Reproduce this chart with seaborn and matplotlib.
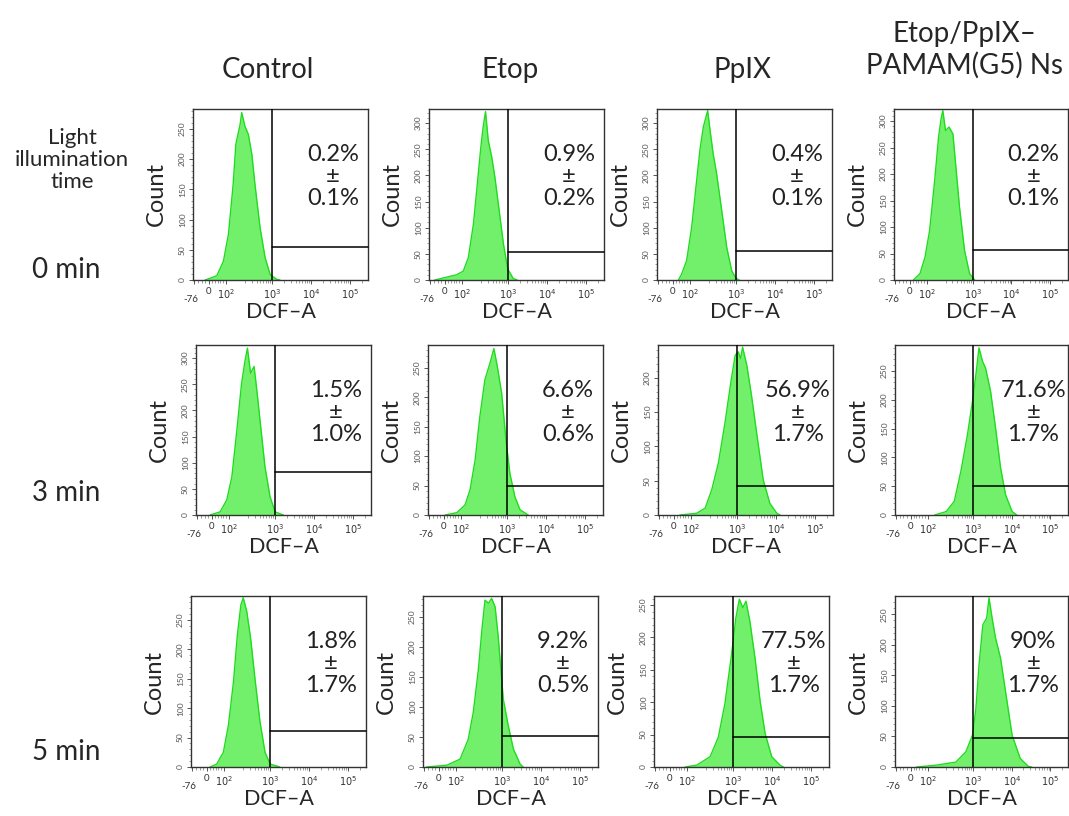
import numpy as np
import matplotlib
matplotlib.use("Agg")
import matplotlib.pyplot as plt
import matplotlib.transforms as mtransforms
import seaborn as sns

# ---------------- data ----------------
col_titles = ["Control", "Etop", "PpIX", "Etop/PpIX–\nPAMAM(G5) Ns"]
row_titles = ["0 min", "3 min", "5 min"]
side_title = ["Light", "illumination", "time"]

# x positions are in display "decade" units of the biexponential DCF-A axis
xtick_pos = [1.0, 1.38, 1.82, 3.0, 4.0, 5.0]
xtick_labels = ["-76", "0", "$10^2$", "$10^3$", "$10^4$", "$10^5$"]
gate_pos = 3.0  # 10^3

# 0 min
pos_0_control = [1.28, 1.58, 1.75, 1.88, 2.00, 2.07, 2.18, 2.22, 2.30, 2.39, 2.48, 2.56, 2.69, 2.82, 2.95, 3.12, 3.20]
cnt_0_control = [0, 7, 31, 76, 158, 225, 258, 277, 255, 241, 208, 158, 87, 37, 9, 1, 0]
pos_0_etop = [1.12, 1.68, 1.85, 1.98, 2.11, 2.21, 2.30, 2.36, 2.42, 2.49, 2.58, 2.66, 2.77, 2.88, 2.99, 3.13, 3.23]
cnt_0_etop = [0, 10, 17, 43, 107, 184, 254, 293, 322, 267, 235, 197, 133, 69, 21, 3, 0]
pos_0_ppix = [1.52, 1.60, 1.73, 1.86, 1.97, 2.07, 2.16, 2.27, 2.33, 2.41, 2.50, 2.63, 2.76, 2.89, 3.00, 3.08]
cnt_0_ppix = [0, 11, 37, 101, 178, 248, 293, 324, 287, 242, 203, 133, 62, 17, 3, 0]
pos_0_combo = [1.47, 1.64, 1.77, 1.89, 2.02, 2.12, 2.19, 2.23, 2.30, 2.39, 2.49, 2.56, 2.66, 2.79, 2.92, 3.05]
cnt_0_combo = [0, 12, 43, 94, 188, 270, 307, 320, 282, 289, 276, 219, 138, 56, 12, 0]

# 3 min
pos_3_control = [1.33, 1.59, 1.76, 1.89, 2.01, 2.14, 2.23, 2.29, 2.37, 2.46, 2.53, 2.63, 2.74, 2.87, 3.00, 3.21]
cnt_3_control = [0, 6, 29, 73, 156, 252, 296, 319, 271, 284, 239, 169, 92, 35, 6, 0]
pos_3_etop = [1.41, 1.71, 1.92, 2.05, 2.18, 2.30, 2.43, 2.56, 2.66, 2.75, 2.86, 2.97, 3.07, 3.20, 3.33, 3.54]
cnt_3_etop = [0, 4, 17, 43, 94, 167, 230, 258, 283, 252, 207, 128, 71, 31, 9, 0]
pos_3_ppix = [1.53, 1.96, 2.18, 2.35, 2.52, 2.69, 2.84, 2.95, 3.03, 3.09, 3.14, 3.25, 3.37, 3.50, 3.67, 3.84, 4.02, 4.10]
cnt_3_ppix = [0, 2.5, 10, 37, 76, 135, 194, 233, 238, 228, 245, 218, 174, 120, 51, 17, 2.5, 0]
pos_3_combo = [2.00, 2.30, 2.51, 2.68, 2.85, 2.98, 3.07, 3.15, 3.24, 3.32, 3.45, 3.58, 3.71, 3.84, 4.01, 4.13]
cnt_3_combo = [0, 6, 24, 76, 139, 197, 244, 290, 267, 255, 215, 151, 82, 35, 6, 0]

# 5 min
pos_5_control = [1.46, 1.63, 1.80, 1.93, 2.06, 2.16, 2.25, 2.31, 2.40, 2.50, 2.61, 2.74, 2.87, 3.00, 3.25]
cnt_5_control = [0, 5, 25, 71, 145, 225, 276, 288, 265, 219, 151, 77, 25, 5, 0]
pos_5_etop = [1.06, 1.58, 1.92, 2.13, 2.26, 2.39, 2.48, 2.56, 2.65, 2.73, 2.82, 2.90, 3.03, 3.16, 3.29, 3.46, 3.54]
cnt_5_etop = [0, 3, 13, 46, 91, 162, 228, 278, 273, 281, 267, 217, 113, 68, 30, 5, 0]
pos_5_ppix = [1.77, 2.07, 2.41, 2.62, 2.79, 2.96, 3.07, 3.16, 3.25, 3.33, 3.43, 3.56, 3.69, 3.82, 3.99, 4.20, 4.29]
cnt_5_ppix = [0, 3, 16, 46, 98, 174, 230, 259, 246, 256, 225, 169, 103, 52, 16, 3, 0]
pos_5_combo = [1.53, 2.04, 2.55, 2.81, 2.98, 3.07, 3.15, 3.25, 3.35, 3.41, 3.49, 3.58, 3.71, 3.84, 4.01, 4.22, 4.43, 4.52]
cnt_5_combo = [0, 3, 8, 25, 52, 96, 167, 233, 244, 277, 244, 211, 178, 123, 52, 14, 1, 0]

# gate heights (count) per row and column
gate_0 = [55, 54, 56, 57]
gate_3 = [82, 49, 43, 50]
gate_5 = [62, 51, 46, 48]

# y axis top per panel
ymax_0 = [283, 327, 327, 323]
ymax_3 = [325, 289, 248, 295]
ymax_5 = [291, 285, 264, 280]

# positive percentages (mean, sd)
pct_mean_0 = ["0.2%", "0.9%", "0.4%", "0.2%"]
pct_sd_0 = ["0.1%", "0.2%", "0.1%", "0.1%"]
pct_mean_3 = ["1.5%", "6.6%", "56.9%", "71.6%"]
pct_sd_3 = ["1.0%", "0.6%", "1.7%", "1.7%"]
pct_mean_5 = ["1.8%", "9.2%", "77.5%", "90%"]
pct_sd_5 = ["1.7%", "0.5%", "1.7%", "1.7%"]

# ---------------- style ----------------
sns.set_theme(style="ticks")
plt.rcParams["font.family"] = ["Lato", "DejaVu Sans"]
plt.rcParams["mathtext.fontset"] = "dejavusans"

FILL = "#72f06c"
EDGE = "#1fdc1f"

W, H = 1069, 816
fig = plt.figure(figsize=(W / 100, H / 100), dpi=100)
fig.patch.set_facecolor("white")

rows = [
    ([pos_0_control, pos_0_etop, pos_0_ppix, pos_0_combo],
     [cnt_0_control, cnt_0_etop, cnt_0_ppix, cnt_0_combo],
     gate_0, ymax_0, pct_mean_0, pct_sd_0),
    ([pos_3_control, pos_3_etop, pos_3_ppix, pos_3_combo],
     [cnt_3_control, cnt_3_etop, cnt_3_ppix, cnt_3_combo],
     gate_3, ymax_3, pct_mean_3, pct_sd_3),
    ([pos_5_control, pos_5_etop, pos_5_ppix, pos_5_combo],
     [cnt_5_control, cnt_5_etop, cnt_5_ppix, cnt_5_combo],
     gate_5, ymax_5, pct_mean_5, pct_sd_5),
]

# layout (pixels)
row_lefts = [[193, 429, 657, 894], [196, 428, 658, 895], [191, 423, 654, 895]]
row_tops = [109, 345, 596]
row_bottoms = [280, 515, 767]
AX_W = 175

# minor ticks for x axis
minor_x = list(np.linspace(1.0, 1.38, 5)[1:-1]) + list(np.linspace(1.38, 1.82, 7)[1:-1])
for k in [2, 3, 4]:
    for m in range(2, 10):
        minor_x.append(k + np.log10(m))
minor_x += [5 + np.log10(2)]


def px_box(left, top, bottom, width):
    return [left / W, 1 - bottom / H, min(width, W - 1 - left) / W, (bottom - top) / H]


for r, (poss, cnts, gates, ymaxs, pm, psd) in enumerate(rows):
    for c in range(4):
        ax = fig.add_axes(px_box(row_lefts[r][c], row_tops[r], row_bottoms[r], AX_W))
        x = np.asarray(poss[c], dtype=float)
        y = np.asarray(cnts[c], dtype=float)
        ax.fill_between(x, 0, y, color=FILL, lw=0, zorder=1)
        sns.lineplot(x=x, y=y, ax=ax, color=EDGE, lw=1.0, zorder=2, legend=False)
        ax.set_xlim(0.97, 5.46)
        ax.set_ylim(0, ymaxs[c])
        # gate
        ax.axvline(gate_pos, color="black", lw=1.1, zorder=3)
        ax.plot([gate_pos, 5.46], [gates[c], gates[c]], color="black", lw=1.1, zorder=3,
                clip_on=False)
        for s in ax.spines.values():
            s.set_color("#333333")
            s.set_linewidth(1.0)
        ax.set_xticks(xtick_pos)
        ax.set_xticklabels(xtick_labels, fontsize=7, color="#333333")
        ax.set_xticks(minor_x, minor=True)
        yt = np.arange(0, ymaxs[c] + 1, 50)
        ax.set_yticks(yt)
        ax.set_yticklabels([str(int(v)) for v in yt], fontsize=6, color="#555555",
                           rotation=90, va="center")
        ax.set_yticks(np.arange(0, ymaxs[c], 10), minor=True)
        ax.tick_params(axis="both", which="major", direction="out", length=3, width=0.7,
                       color="#555555", pad=2)
        ax.tick_params(axis="both", which="minor", direction="out", length=1.8, width=0.5,
                       color="#777777")
        # shift the "-76" label down-left like the FlowJo axis
        lab0 = ax.get_xticklabels()[0]
        lab0.set_transform(lab0.get_transform() +
                           mtransforms.ScaledTranslation(-0.03, -0.08, fig.dpi_scale_trans))
        ax.set_xlabel("DCF–A", fontsize=15.5)
        ax.set_ylabel("Count", fontsize=17)
        ax.xaxis.set_label_coords(0.5, -0.13)
        ax.yaxis.set_label_coords(-0.15, 0.5)
        # percent text
        kw = dict(transform=ax.transAxes, ha="center", va="center", fontsize=17,
                  color="#222222")
        ax.text(0.80, 0.735, pm[c], **kw)
        ax.text(0.80, 0.605, "±", **kw)
        ax.text(0.80, 0.475, psd[c], **kw)


def ftext(x, y, s, **kw):
    fig.text(x / W, 1 - y / H, s, ha="center", va="center", **kw)


ftext(268, 70, col_titles[0], fontsize=20)
ftext(510, 70, col_titles[1], fontsize=20)
ftext(743, 70, col_titles[2], fontsize=20)
ftext(964, 50, col_titles[3], fontsize=20, linespacing=1.2)

ftext(72, 160, "\n".join(side_title), fontsize=16, linespacing=1.15)
ftext(66, 270, row_titles[0], fontsize=20)
ftext(66, 493, row_titles[1], fontsize=20)
ftext(66, 752, row_titles[2], fontsize=20)

fig.savefig("out.png", dpi=100, facecolor="white")
